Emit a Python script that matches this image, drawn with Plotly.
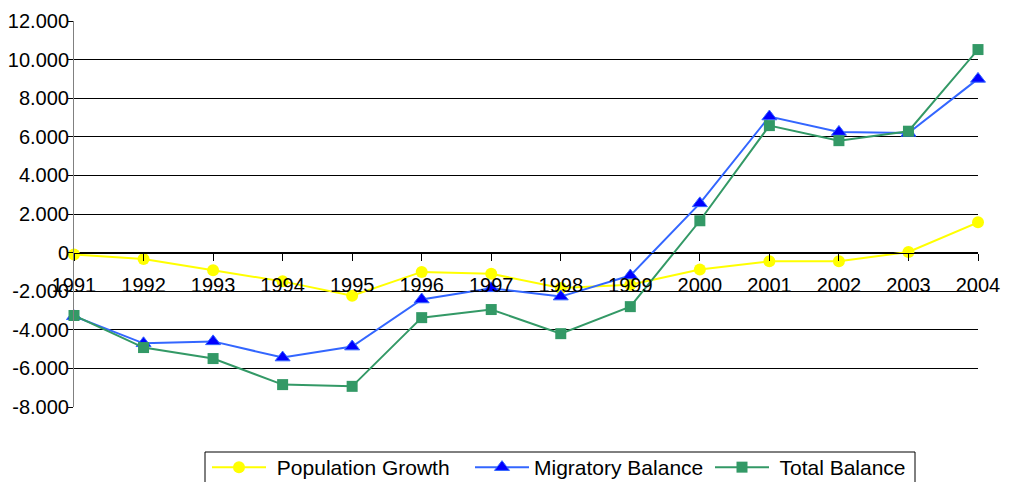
import plotly.graph_objects as go

years = [1991, 1992, 1993, 1994, 1995, 1996, 1997, 1998, 1999, 2000, 2001, 2002, 2003, 2004]
population_growth = [-100, -330, -920, -1490, -2230, -1000, -1100, -1830, -1660, -880, -450, -450, 30, 1570]
migratory_balance = [-3300, -4700, -4600, -5440, -4870, -2430, -1850, -2280, -1190, 2550, 7050, 6250, 6200, 9000]
total_balance = [-3260, -4920, -5490, -6840, -6930, -3370, -2950, -4200, -2800, 1650, 6580, 5800, 6290, 10520]

y_ticks = [-8000, -6000, -4000, -2000, 0, 2000, 4000, 6000, 8000, 10000, 12000]
y_ticktext = ["-8.000", "-6.000", "-4.000", "-2.000", "0", "2.000", "4.000", "6.000", "8.000", "10.000", "12.000"]

FONT = "Liberation Sans, Arial, sans-serif"

# plot area in page pixels (body margin removed)
PL, PR, PT, PB = 74, 978, 21, 407
PW, PH = PR - PL, PB - PT


def px_x(x):
    return (x - PL) / PW


def px_y(y):
    return (PB - y) / PH


fig = go.Figure()
fig.add_trace(go.Scatter(
    x=years, y=population_growth, name=" Population Growth", mode="lines+markers",
    line=dict(color="#FFFF00", width=2),
    marker=dict(symbol="circle", size=12, color="#FFFF00", line=dict(width=0)),
    cliponaxis=False, legend="legend"))
fig.add_trace(go.Scatter(
    x=years, y=migratory_balance, name="Migratory Balance", mode="lines+markers",
    line=dict(color="#3366FF", width=2),
    marker=dict(symbol="triangle-up", size=13, color="#0000FF", line=dict(width=1, color="#3366FF")),
    cliponaxis=False, legend="legend2"))
fig.add_trace(go.Scatter(
    x=years, y=total_balance, name=" Total Balance", mode="lines+markers",
    line=dict(color="#339966", width=2),
    marker=dict(symbol="square", size=11, color="#339966", line=dict(width=0)),
    cliponaxis=False, legend="legend3"))

leg_common = dict(orientation="h", yanchor="top", xanchor="left", y=px_y(447),
                  bgcolor="rgba(0,0,0,0)", borderwidth=0, itemwidth=54,
                  font=dict(family=FONT, size=21, color="black"))

fig.update_layout(
    width=1010, height=482,
    margin=dict(l=74, r=32, t=21, b=75, autoexpand=False),
    paper_bgcolor="white", plot_bgcolor="white",
    font=dict(family=FONT, size=20, color="black"),
    showlegend=True,
    legend=dict(x=px_x(207), **leg_common),
    legend2=dict(x=px_x(470), **leg_common),
    legend3=dict(x=px_x(710), **leg_common),
    shapes=[dict(type="rect", xref="paper", yref="paper",
                 x0=px_x(205), x1=px_x(915), y0=px_y(500), y1=px_y(452),
                 line=dict(color="black", width=1), fillcolor="rgba(0,0,0,0)", layer="below")],
    xaxis=dict(range=[1991, 2004], tickvals=years, ticktext=[str(y) for y in years],
               anchor="free", position=0.4, showgrid=False, zeroline=False,
               showline=True, linecolor="black", linewidth=1,
               ticks="outside", ticklen=7, tickcolor="black", tickwidth=1,
               ticklabelstandoff=7,
               tickfont=dict(family=FONT, size=20, color="black")),
    yaxis=dict(range=[-8000, 12000], tickvals=y_ticks, ticktext=y_ticktext,
               showgrid=True, gridcolor="black", gridwidth=1, zeroline=False,
               showline=True, linecolor="#808080", linewidth=1,
               ticks="outside", ticklen=5, tickcolor="black",
               ticklabelstandoff=-5,
               tickfont=dict(family=FONT, size=20, color="black")),
)

fig.write_html("out.html",
               config={"displayModeBar": False},
               post_script="document.body.style.margin='0';document.body.style.overflow='hidden';")
